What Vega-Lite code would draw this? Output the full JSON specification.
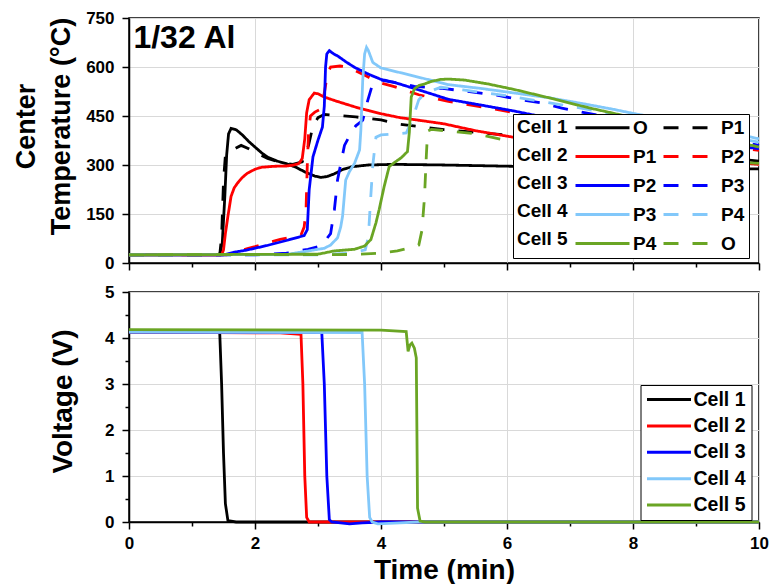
{
"$schema": "https://vega.github.io/schema/vega-lite/v6.json",
"padding": {"left": 11, "top": 8, "right": 0, "bottom": 0},
"spacing": 10,
"datasets": {
"temp": [
{"s":"C1-O","t":0,"T":25},{"s":"C1-O","t":1.44,"T":25},{"s":"C1-O","t":1.48,"T":60},{"s":"C1-O","t":1.52,"T":200},{"s":"C1-O","t":1.55,"T":330},{"s":"C1-O","t":1.58,"T":395},{"s":"C1-O","t":1.62,"T":412},{"s":"C1-O","t":1.7,"T":408},{"s":"C1-O","t":1.8,"T":392},{"s":"C1-O","t":1.9,"T":372},{"s":"C1-O","t":2.0,"T":355},{"s":"C1-O","t":2.1,"T":338},{"s":"C1-O","t":2.2,"T":324},{"s":"C1-O","t":2.35,"T":312},{"s":"C1-O","t":2.5,"T":304},{"s":"C1-O","t":2.65,"T":293},{"s":"C1-O","t":2.8,"T":278},{"s":"C1-O","t":2.95,"T":266},{"s":"C1-O","t":3.05,"T":262},{"s":"C1-O","t":3.15,"T":265},{"s":"C1-O","t":3.26,"T":273},{"s":"C1-O","t":3.4,"T":287},{"s":"C1-O","t":3.55,"T":295},{"s":"C1-O","t":3.8,"T":300},{"s":"C1-O","t":4.2,"T":302},{"s":"C1-O","t":5.0,"T":300},{"s":"C1-O","t":6.1,"T":296},{"s":"C1-O","t":7,"T":294},{"s":"C1-O","t":8,"T":292},{"s":"C1-O","t":9,"T":290},{"s":"C1-O","t":10,"T":288},
{"s":"C1-P1","t":0,"T":25},{"s":"C1-P1","t":1.44,"T":25},{"s":"C1-P1","t":1.47,"T":80},{"s":"C1-P1","t":1.5,"T":250},{"s":"C1-P1","t":1.53,"T":330},{"s":"C1-P1","t":1.59,"T":340},{"s":"C1-P1","t":1.7,"T":352},{"s":"C1-P1","t":1.78,"T":360},{"s":"C1-P1","t":1.9,"T":350},{"s":"C1-P1","t":2.04,"T":335},{"s":"C1-P1","t":2.2,"T":320},{"s":"C1-P1","t":2.4,"T":308},{"s":"C1-P1","t":2.6,"T":302},{"s":"C1-P1","t":2.75,"T":310},{"s":"C1-P1","t":2.85,"T":360},{"s":"C1-P1","t":2.92,"T":420},{"s":"C1-P1","t":3.0,"T":445},{"s":"C1-P1","t":3.1,"T":455},{"s":"C1-P1","t":3.3,"T":452},{"s":"C1-P1","t":3.6,"T":447},{"s":"C1-P1","t":3.8,"T":443},{"s":"C1-P1","t":4.0,"T":438},{"s":"C1-P1","t":4.3,"T":425},{"s":"C1-P1","t":4.6,"T":418},{"s":"C1-P1","t":5.0,"T":408},{"s":"C1-P1","t":5.5,"T":400},{"s":"C1-P1","t":6.1,"T":390},{"s":"C1-P1","t":7,"T":370},{"s":"C1-P1","t":8,"T":350},{"s":"C1-P1","t":9,"T":330},{"s":"C1-P1","t":10,"T":312},
{"s":"C2-P1","t":0,"T":25},{"s":"C2-P1","t":1.47,"T":25},{"s":"C2-P1","t":1.5,"T":40},{"s":"C2-P1","t":1.53,"T":90},{"s":"C2-P1","t":1.57,"T":143},{"s":"C2-P1","t":1.62,"T":204},{"s":"C2-P1","t":1.67,"T":230},{"s":"C2-P1","t":1.72,"T":244},{"s":"C2-P1","t":1.8,"T":262},{"s":"C2-P1","t":1.88,"T":275},{"s":"C2-P1","t":2.0,"T":287},{"s":"C2-P1","t":2.1,"T":293},{"s":"C2-P1","t":2.3,"T":296},{"s":"C2-P1","t":2.5,"T":297},{"s":"C2-P1","t":2.62,"T":300},{"s":"C2-P1","t":2.7,"T":305},{"s":"C2-P1","t":2.75,"T":320},{"s":"C2-P1","t":2.79,"T":380},{"s":"C2-P1","t":2.82,"T":460},{"s":"C2-P1","t":2.86,"T":500},{"s":"C2-P1","t":2.94,"T":520},{"s":"C2-P1","t":3.0,"T":518},{"s":"C2-P1","t":3.1,"T":508},{"s":"C2-P1","t":3.3,"T":495},{"s":"C2-P1","t":3.6,"T":477},{"s":"C2-P1","t":3.8,"T":467},{"s":"C2-P1","t":4.0,"T":457},{"s":"C2-P1","t":4.3,"T":445},{"s":"C2-P1","t":4.6,"T":437},{"s":"C2-P1","t":5.0,"T":426},{"s":"C2-P1","t":5.5,"T":405},{"s":"C2-P1","t":6.1,"T":385},{"s":"C2-P1","t":7,"T":360},{"s":"C2-P1","t":8,"T":338},{"s":"C2-P1","t":9,"T":318},{"s":"C2-P1","t":10,"T":302},
{"s":"C2-P2","t":0,"T":25},{"s":"C2-P2","t":1.55,"T":25},{"s":"C2-P2","t":1.7,"T":33},{"s":"C2-P2","t":1.88,"T":44},{"s":"C2-P2","t":2.0,"T":50},{"s":"C2-P2","t":2.2,"T":62},{"s":"C2-P2","t":2.4,"T":72},{"s":"C2-P2","t":2.6,"T":80},{"s":"C2-P2","t":2.73,"T":86},{"s":"C2-P2","t":2.78,"T":110},{"s":"C2-P2","t":2.81,"T":160},{"s":"C2-P2","t":2.83,"T":300},{"s":"C2-P2","t":2.85,"T":400},{"s":"C2-P2","t":2.88,"T":450},{"s":"C2-P2","t":2.95,"T":462},{"s":"C2-P2","t":3.05,"T":472},{"s":"C2-P2","t":3.1,"T":520},{"s":"C2-P2","t":3.15,"T":580},{"s":"C2-P2","t":3.2,"T":600},{"s":"C2-P2","t":3.35,"T":603},{"s":"C2-P2","t":3.47,"T":600},{"s":"C2-P2","t":3.58,"T":590},{"s":"C2-P2","t":3.79,"T":570},{"s":"C2-P2","t":4.0,"T":551},{"s":"C2-P2","t":4.21,"T":540},{"s":"C2-P2","t":4.6,"T":515},{"s":"C2-P2","t":5.07,"T":495},{"s":"C2-P2","t":5.6,"T":478},{"s":"C2-P2","t":6.12,"T":460},{"s":"C2-P2","t":7,"T":430},{"s":"C2-P2","t":8,"T":400},{"s":"C2-P2","t":9,"T":370},{"s":"C2-P2","t":10,"T":345},
{"s":"C3-P2","t":0,"T":25},{"s":"C3-P2","t":1.5,"T":25},{"s":"C3-P2","t":1.67,"T":33},{"s":"C3-P2","t":1.88,"T":40},{"s":"C3-P2","t":2.2,"T":54},{"s":"C3-P2","t":2.52,"T":70},{"s":"C3-P2","t":2.78,"T":84},{"s":"C3-P2","t":2.83,"T":102},{"s":"C3-P2","t":2.86,"T":224},{"s":"C3-P2","t":2.92,"T":325},{"s":"C3-P2","t":3.0,"T":376},{"s":"C3-P2","t":3.07,"T":416},{"s":"C3-P2","t":3.1,"T":480},{"s":"C3-P2","t":3.12,"T":600},{"s":"C3-P2","t":3.14,"T":640},{"s":"C3-P2","t":3.18,"T":650},{"s":"C3-P2","t":3.25,"T":640},{"s":"C3-P2","t":3.31,"T":634},{"s":"C3-P2","t":3.45,"T":615},{"s":"C3-P2","t":3.58,"T":599},{"s":"C3-P2","t":3.79,"T":579},{"s":"C3-P2","t":4.0,"T":562},{"s":"C3-P2","t":4.21,"T":553},{"s":"C3-P2","t":4.6,"T":530},{"s":"C3-P2","t":5.07,"T":501},{"s":"C3-P2","t":5.6,"T":483},{"s":"C3-P2","t":6.12,"T":465},{"s":"C3-P2","t":7,"T":430},{"s":"C3-P2","t":8,"T":400},{"s":"C3-P2","t":9,"T":372},{"s":"C3-P2","t":10,"T":350},
{"s":"C3-P3","t":0,"T":25},{"s":"C3-P3","t":2.0,"T":25},{"s":"C3-P3","t":2.5,"T":30},{"s":"C3-P3","t":2.84,"T":42},{"s":"C3-P3","t":3.05,"T":52},{"s":"C3-P3","t":3.2,"T":90},{"s":"C3-P3","t":3.26,"T":163},{"s":"C3-P3","t":3.31,"T":254},{"s":"C3-P3","t":3.42,"T":360},{"s":"C3-P3","t":3.53,"T":400},{"s":"C3-P3","t":3.6,"T":420},{"s":"C3-P3","t":3.71,"T":437},{"s":"C3-P3","t":3.79,"T":498},{"s":"C3-P3","t":3.87,"T":550},{"s":"C3-P3","t":4.0,"T":560},{"s":"C3-P3","t":4.2,"T":553},{"s":"C3-P3","t":4.53,"T":541},{"s":"C3-P3","t":4.95,"T":535},{"s":"C3-P3","t":5.3,"T":527},{"s":"C3-P3","t":5.86,"T":513},{"s":"C3-P3","t":6.2,"T":500},{"s":"C3-P3","t":6.55,"T":490},{"s":"C3-P3","t":6.87,"T":474},{"s":"C3-P3","t":7.5,"T":450},{"s":"C3-P3","t":8,"T":430},{"s":"C3-P3","t":9,"T":395},{"s":"C3-P3","t":10,"T":360},
{"s":"C4-P3","t":0,"T":25},{"s":"C4-P3","t":2.5,"T":26},{"s":"C4-P3","t":2.94,"T":40},{"s":"C4-P3","t":3.1,"T":45},{"s":"C4-P3","t":3.2,"T":55},{"s":"C4-P3","t":3.31,"T":77},{"s":"C4-P3","t":3.36,"T":110},{"s":"C4-P3","t":3.39,"T":143},{"s":"C4-P3","t":3.44,"T":254},{"s":"C4-P3","t":3.5,"T":280},{"s":"C4-P3","t":3.58,"T":305},{"s":"C4-P3","t":3.66,"T":346},{"s":"C4-P3","t":3.68,"T":406},{"s":"C4-P3","t":3.71,"T":560},{"s":"C4-P3","t":3.74,"T":640},{"s":"C4-P3","t":3.77,"T":660},{"s":"C4-P3","t":3.8,"T":650},{"s":"C4-P3","t":3.87,"T":614},{"s":"C4-P3","t":4.0,"T":597},{"s":"C4-P3","t":4.32,"T":582},{"s":"C4-P3","t":4.53,"T":572},{"s":"C4-P3","t":5.07,"T":546},{"s":"C4-P3","t":5.6,"T":534},{"s":"C4-P3","t":6.66,"T":506},{"s":"C4-P3","t":7.2,"T":488},{"s":"C4-P3","t":7.7,"T":470},{"s":"C4-P3","t":8.0,"T":458},{"s":"C4-P3","t":8.5,"T":440},{"s":"C4-P3","t":9.3,"T":410},{"s":"C4-P3","t":10,"T":380},
{"s":"C4-P4","t":0,"T":25},{"s":"C4-P4","t":3.0,"T":25},{"s":"C4-P4","t":3.5,"T":30},{"s":"C4-P4","t":3.75,"T":40},{"s":"C4-P4","t":3.8,"T":80},{"s":"C4-P4","t":3.83,"T":180},{"s":"C4-P4","t":3.87,"T":300},{"s":"C4-P4","t":3.92,"T":385},{"s":"C4-P4","t":4.0,"T":392},{"s":"C4-P4","t":4.2,"T":395},{"s":"C4-P4","t":4.4,"T":398},{"s":"C4-P4","t":4.5,"T":440},{"s":"C4-P4","t":4.6,"T":500},{"s":"C4-P4","t":4.7,"T":520},{"s":"C4-P4","t":4.95,"T":538},{"s":"C4-P4","t":5.3,"T":530},{"s":"C4-P4","t":6,"T":512},{"s":"C4-P4","t":7,"T":480},{"s":"C4-P4","t":8,"T":445},{"s":"C4-P4","t":9,"T":405},{"s":"C4-P4","t":10,"T":370},
{"s":"C5-P4","t":0,"T":25},{"s":"C5-P4","t":3.0,"T":27},{"s":"C5-P4","t":3.26,"T":37},{"s":"C5-P4","t":3.58,"T":42},{"s":"C5-P4","t":3.74,"T":52},{"s":"C5-P4","t":3.84,"T":72},{"s":"C5-P4","t":3.92,"T":123},{"s":"C5-P4","t":3.97,"T":163},{"s":"C5-P4","t":4.05,"T":234},{"s":"C5-P4","t":4.13,"T":295},{"s":"C5-P4","t":4.21,"T":307},{"s":"C5-P4","t":4.32,"T":322},{"s":"C5-P4","t":4.42,"T":341},{"s":"C5-P4","t":4.45,"T":400},{"s":"C5-P4","t":4.48,"T":508},{"s":"C5-P4","t":4.53,"T":533},{"s":"C5-P4","t":4.6,"T":543},{"s":"C5-P4","t":4.69,"T":548},{"s":"C5-P4","t":4.8,"T":556},{"s":"C5-P4","t":4.95,"T":562},{"s":"C5-P4","t":5.07,"T":563},{"s":"C5-P4","t":5.33,"T":560},{"s":"C5-P4","t":5.7,"T":548},{"s":"C5-P4","t":6.12,"T":531},{"s":"C5-P4","t":6.66,"T":506},{"s":"C5-P4","t":7.3,"T":475},{"s":"C5-P4","t":8,"T":445},{"s":"C5-P4","t":9,"T":398},{"s":"C5-P4","t":10,"T":355},
{"s":"C5-O","t":0,"T":25},{"s":"C5-O","t":3.5,"T":26},{"s":"C5-O","t":4.0,"T":30},{"s":"C5-O","t":4.26,"T":37},{"s":"C5-O","t":4.48,"T":48},{"s":"C5-O","t":4.6,"T":55},{"s":"C5-O","t":4.65,"T":100},{"s":"C5-O","t":4.69,"T":200},{"s":"C5-O","t":4.72,"T":330},{"s":"C5-O","t":4.74,"T":404},{"s":"C5-O","t":4.8,"T":409},{"s":"C5-O","t":5.07,"T":404},{"s":"C5-O","t":5.5,"T":396},{"s":"C5-O","t":6.12,"T":370},{"s":"C5-O","t":7,"T":350},{"s":"C5-O","t":8,"T":330},{"s":"C5-O","t":9,"T":315},{"s":"C5-O","t":10,"T":305}
],
"volt": [
{"c":"Cell 1","t":0,"v":4.13},{"c":"Cell 1","t":1.44,"v":4.12},{"c":"Cell 1","t":1.47,"v":3.0},{"c":"Cell 1","t":1.5,"v":1.5},{"c":"Cell 1","t":1.53,"v":0.4},{"c":"Cell 1","t":1.57,"v":0.03},{"c":"Cell 1","t":1.7,"v":0},{"c":"Cell 1","t":10,"v":0},
{"c":"Cell 2","t":0,"v":4.13},{"c":"Cell 2","t":2.4,"v":4.11},{"c":"Cell 2","t":2.73,"v":4.08},{"c":"Cell 2","t":2.76,"v":3.0},{"c":"Cell 2","t":2.79,"v":1.0},{"c":"Cell 2","t":2.82,"v":0.1},{"c":"Cell 2","t":2.86,"v":0},{"c":"Cell 2","t":10,"v":0},
{"c":"Cell 3","t":0,"v":4.13},{"c":"Cell 3","t":3.06,"v":4.12},{"c":"Cell 3","t":3.1,"v":3.0},{"c":"Cell 3","t":3.14,"v":1.0},{"c":"Cell 3","t":3.18,"v":0.05},{"c":"Cell 3","t":3.22,"v":0},{"c":"Cell 3","t":3.5,"v":-0.04},{"c":"Cell 3","t":3.7,"v":-0.02},{"c":"Cell 3","t":4.0,"v":0},{"c":"Cell 3","t":10,"v":0},
{"c":"Cell 4","t":0,"v":4.13},{"c":"Cell 4","t":3.7,"v":4.12},{"c":"Cell 4","t":3.74,"v":3.0},{"c":"Cell 4","t":3.78,"v":1.0},{"c":"Cell 4","t":3.82,"v":0.1},{"c":"Cell 4","t":3.86,"v":0},{"c":"Cell 4","t":3.95,"v":-0.04},{"c":"Cell 4","t":4.3,"v":-0.02},{"c":"Cell 4","t":4.6,"v":0},{"c":"Cell 4","t":10,"v":0},
{"c":"Cell 5","t":0,"v":4.18},{"c":"Cell 5","t":4.0,"v":4.17},{"c":"Cell 5","t":4.4,"v":4.14},{"c":"Cell 5","t":4.43,"v":3.71},{"c":"Cell 5","t":4.46,"v":3.85},{"c":"Cell 5","t":4.49,"v":3.89},{"c":"Cell 5","t":4.53,"v":3.78},{"c":"Cell 5","t":4.56,"v":3.57},{"c":"Cell 5","t":4.57,"v":2.0},{"c":"Cell 5","t":4.58,"v":0.3},{"c":"Cell 5","t":4.62,"v":0.02},{"c":"Cell 5","t":4.7,"v":0},{"c":"Cell 5","t":10,"v":0}
]
},
"vconcat": [
{
"width": 630, "height": 245,
"layer": [
{
"data": {"name": "temp"},
"mark": {"type": "line", "strokeWidth": 2.8},
"encoding": {
"x": {"field": "t", "type": "quantitative", "scale": {"domain": [0, 10], "nice": false},
"axis": {"values": [0,1,2,3,4,5,6,7,8,9,10], "labels": false, "title": null,
"tickSize": {"condition": {"test": "datum.value % 2 == 0", "value": 7}, "value": 4},
"gridOpacity": {"condition": {"test": "datum.value % 2 == 0", "value": 1}, "value": 0}}},
"y": {"field": "T", "type": "quantitative", "scale": {"domain": [0, 750], "nice": false},
"axis": {"values": [0,75,150,225,300,375,450,525,600,675,750],
"labelExpr": "datum.value % 150 == 0 ? datum.label : ''",
"tickSize": {"condition": {"test": "datum.value % 150 == 0", "value": 7}, "value": 4},
"gridOpacity": {"condition": {"test": "datum.value % 150 == 0", "value": 1}, "value": 0},
"labelPadding": 8,
"title": ["Center", "Temperature (°C)"], "titleFontSize": 27, "titleLineHeight": 35,
"titleX": -95, "titleY": 108, "titleAngle": 270, "titleBaseline": "alphabetic", "titleAlign": "center"}},
"color": {"field": "s", "type": "nominal",
"scale": {"domain": ["C1-O","C2-P1","C3-P2","C4-P3","C5-P4","C1-P1","C2-P2","C3-P3","C4-P4","C5-O"],
"range": ["#000000","#ff0000","#0000ff","#82c8fa","#6aa524","#000000","#ff0000","#0000ff","#82c8fa","#6aa524"]},
"legend": {"orient": "none", "legendX": 384, "legendY": 96,
"title": ["Cell 1","Cell 2","Cell 3","Cell 4","Cell 5"],
"titleOrient": "left", "titleAnchor": "start", "titleBaseline": "top", "titleAlign": "left",
"titleFontSize": 19, "titleFontWeight": "bold", "titleLineHeight": 28, "titlePadding": 6, "titleColor": "#000",
"columns": 2, "columnPadding": 5, "rowPadding": 9, "clipHeight": 19,
"symbolType": "stroke", "symbolSize": 2916, "symbolStrokeWidth": 3,
"labelFontSize": 19, "labelFontWeight": "bold", "labelOffset": 2, "labelColor": "#000",
"labelExpr": "split(datum.label, '-')[1]",
"padding": 4, "strokeColor": "#000", "fillColor": "#ffffff"}},
"strokeDash": {"field": "s", "type": "nominal",
"scale": {"domain": ["C1-O","C2-P1","C3-P2","C4-P3","C5-P4","C1-P1","C2-P2","C3-P3","C4-P4","C5-O"],
"range": [[1,0],[1,0],[1,0],[1,0],[1,0],[15,14],[15,14],[15,14],[15,14],[15,14]]}}
}
},
{
"data": {"values": [{"label": "1/32 Al"}]},
"mark": {"type": "text", "fontSize": 32, "fontWeight": "bold", "align": "left", "baseline": "alphabetic", "color": "#000"},
"encoding": {"x": {"datum": 0.07}, "y": {"datum": 658}, "text": {"field": "label"}}
}
]
},
{
"width": 630, "height": 230,
"data": {"name": "volt"},
"mark": {"type": "line", "strokeWidth": 2.8},
"encoding": {
"x": {"field": "t", "type": "quantitative", "scale": {"domain": [0, 10], "nice": false},
"axis": {"values": [0,1,2,3,4,5,6,7,8,9,10],
"labelExpr": "datum.value % 2 == 0 ? datum.label : ''",
"tickSize": {"condition": {"test": "datum.value % 2 == 0", "value": 7}, "value": 4},
"gridOpacity": {"condition": {"test": "datum.value % 2 == 0", "value": 1}, "value": 0},
"labelPadding": 6, "title": "Time (min)", "titleFontSize": 28, "titlePadding": 5}},
"y": {"field": "v", "type": "quantitative", "scale": {"domain": [0, 5], "nice": false},
"axis": {"values": [0,0.5,1,1.5,2,2.5,3,3.5,4,4.5,5], "format": ".0f",
"labelExpr": "datum.value % 1 == 0 ? datum.label : ''",
"tickSize": {"condition": {"test": "datum.value % 1 == 0", "value": 7}, "value": 4},
"gridOpacity": {"condition": {"test": "datum.value % 1 == 0", "value": 1}, "value": 0},
"labelPadding": 8,
"title": "Voltage (V)", "titleFontSize": 28,
"titleX": -58, "titleY": 109, "titleAngle": 270, "titleBaseline": "alphabetic", "titleAlign": "center"}},
"color": {"field": "c", "type": "nominal",
"scale": {"domain": ["Cell 1","Cell 2","Cell 3","Cell 4","Cell 5"],
"range": ["#000000","#ff0000","#0000ff","#82c8fa","#6aa524"]},
"legend": {"orient": "none", "legendX": 511.5, "legendY": 93, "title": null,
"symbolType": "stroke", "symbolSize": 1936, "symbolStrokeWidth": 3, "clipHeight": 19, "rowPadding": 6.4,
"labelFontSize": 19.5, "labelFontWeight": "bold", "labelOffset": 1, "labelColor": "#000",
"padding": 5, "strokeColor": "#000", "fillColor": "#ffffff"}}
}
}
],
"resolve": {"scale": {"color": "independent", "strokeDash": "independent"}, "legend": {"color": "independent", "strokeDash": "independent"}},
"config": {
"font": "Liberation Sans",
"view": {"stroke": "#000", "strokeWidth": 1.5},
"axis": {"labelFont": "Liberation Sans", "labelFontSize": 17, "labelFontWeight": "bold", "labelColor": "#000",
"titleFont": "Liberation Sans", "titleFontWeight": "bold", "titleColor": "#000",
"tickColor": "#000", "tickWidth": 1.5, "domainColor": "#000", "domainWidth": 1.5,
"gridColor": "#d9d9d9", "gridWidth": 1, "labelOverlap": false, "labelFlush": false, "labelBound": false},
"legend": {"labelFont": "Liberation Sans", "titleFont": "Liberation Sans"},
"text": {"font": "Liberation Sans"}
}
}
